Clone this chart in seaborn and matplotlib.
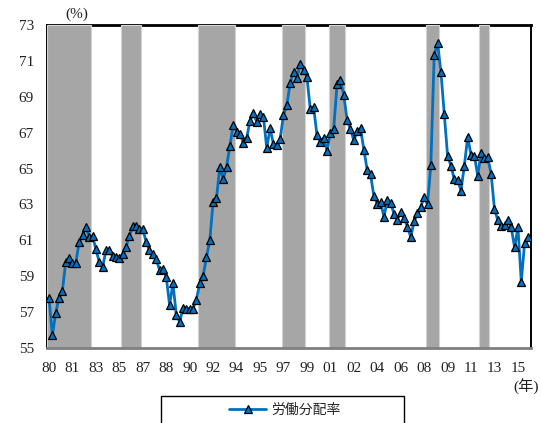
import numpy as np
import pandas as pd
import matplotlib
matplotlib.use("Agg")
import matplotlib.pyplot as plt
from matplotlib.patches import Rectangle
import seaborn as sns

# Quarterly labour share (%), 1980Q1 onwards
start_quarter = "1980Q1"
labor_share = [
    57.8, 55.7, 56.95, 57.8, 58.2, 59.8, 60.0, 59.75, 59.75, 60.9,
    61.3, 61.75, 61.2, 61.25, 60.5, 59.8, 59.5, 60.45, 60.45, 60.1,
    60.05, 60.0, 60.25, 60.65, 61.25, 61.8, 61.8, 61.65, 61.65, 60.9,
    60.45, 60.22, 59.95, 59.35, 59.4, 58.97, 57.4, 58.6, 56.85, 56.45,
    57.22, 57.2, 57.2, 57.2, 57.7, 58.6, 59.0, 60.05, 61.0, 63.15,
    63.35, 65.1, 64.4, 65.1, 66.25, 67.43, 67.05, 66.95, 66.45, 66.7,
    67.65, 68.08, 67.6, 68.04, 67.9, 66.15, 67.24, 66.37, 66.31, 66.65,
    67.98, 68.55, 69.75, 70.37, 70.03, 70.83, 70.49, 70.1, 68.33, 68.43,
    66.87, 66.5, 66.7, 66.0, 66.96, 67.22, 69.71, 69.92, 69.1, 67.7,
    67.2, 66.57, 67.07, 67.24, 66.05, 64.92, 64.67, 63.45, 63.04, 63.15,
    62.3, 63.25, 63.08, 62.48, 62.15, 62.57, 62.27, 61.76, 61.18, 62.06,
    62.5, 62.87, 63.43, 63.0, 65.22, 71.33, 72.01, 70.4, 68.04, 65.7,
    65.16, 64.4, 64.36, 63.77, 65.16, 66.77, 65.75, 65.7, 64.6, 65.85,
    65.57, 65.62, 64.69, 62.72, 62.13, 61.8, 61.85, 62.13, 61.72, 60.61,
    61.72, 58.69, 60.87, 61.2,
]

# Recession periods (first and last quarter)
recessions = [
    ("1980Q1", "1983Q1"),
    ("1985Q3", "1986Q4"),
    ("1991Q2", "1993Q4"),
    ("1997Q3", "1999Q1"),
    ("2001Q1", "2002Q1"),
    ("2008Q2", "2009Q1"),
    ("2012Q2", "2012Q4"),
]

# Category-axis labels, one every seven quarters
tick_labels = ["80", "81", "83", "85", "87", "88", "90", "92", "94", "95",
               "97", "99", "01", "02", "04", "06", "08", "09", "11", "13", "15"]
tick_step = 7
y_ticks = list(range(55, 74, 2))
series_name = "労働分配率"

quarters = pd.period_range(start_quarter, periods=len(labor_share), freq="Q")
df = pd.DataFrame({"pos": np.arange(len(labor_share)), "share": labor_share})


def quarter_pos(q):
    return quarters.get_loc(pd.Period(q, freq="Q"))


sns.set_style("white")
plt.rcParams["font.family"] = ["Liberation Serif", "Noto Sans CJK JP", "DejaVu Sans"]

W, H = 541, 423
fig = plt.figure(figsize=(W / 100, H / 100), dpi=100)
ax = fig.add_axes([46.5 / W, 1 - 348 / H, (531 - 46.5) / W, (348 - 25) / H])

line_blue = "#0070C0"

# Shaded recession bands
for s, e in recessions:
    ax.axvspan(quarter_pos(s) - 0.5, quarter_pos(e) + 0.5, facecolor="#a6a6a6",
               edgecolor="#d4d4d4", linewidth=0.8, zorder=2.6)

sns.lineplot(data=df, x="pos", y="share", ax=ax, color=line_blue, linewidth=2.0,
             marker="^", markersize=6, markerfacecolor=line_blue,
             markeredgecolor="black", markeredgewidth=0.9, label=series_name,
             zorder=4)

ax.set_xlim(-0.75, 143.9)
ax.set_ylim(55, 73)
ax.set_yticks(y_ticks)
ax.set_yticklabels([str(v) for v in y_ticks])
ax.set_xticks(np.arange(len(tick_labels)) * tick_step)
ax.set_xticklabels(tick_labels)
ax.set_xlabel("")
ax.set_ylabel("")
ax.grid(False)

ax.tick_params(axis="y", direction="in", length=2.5, width=0.8, color="#808080",
               labelsize=11, pad=9, labelcolor="#222222")
ax.tick_params(axis="x", length=0, labelsize=11, pad=10, labelcolor="#222222")

for side in ["left", "top", "right"]:
    ax.spines[side].set_color("black")
    ax.spines[side].set_linewidth(1.4)
ax.spines["top"].set_linewidth(2.0)
ax.spines["bottom"].set_color("#7f7f7f")
ax.spines["bottom"].set_linewidth(2.0)
ax.spines["bottom"].set_zorder(3)

leg = ax.get_legend()
if leg is not None:
    leg.remove()
handles, labels = ax.get_legend_handles_labels()
fig.legend(handles, labels, loc="center", bbox_to_anchor=(285 / W, 1 - 410 / H),
           frameon=False, handlelength=2.6, handletextpad=0.4,
           prop={"family": ["Noto Sans CJK JP", "DejaVu Sans"], "size": 10})
fig.add_artist(Rectangle((161 / W, -0.1), (404 - 161) / W, (1 - 396 / H) + 0.1,
                         transform=fig.transFigure, fill=False, edgecolor="black",
                         linewidth=1.0, clip_on=False))

fig.text(77 / W, 1 - 14 / H, "(%)", ha="center", va="center", fontsize=11,
         color="#222222")
fig.text(539 / W, 1 - 387 / H, "(年)", ha="right", va="center", fontsize=11,
         color="#222222")

fig.savefig("out.png", dpi=100)
